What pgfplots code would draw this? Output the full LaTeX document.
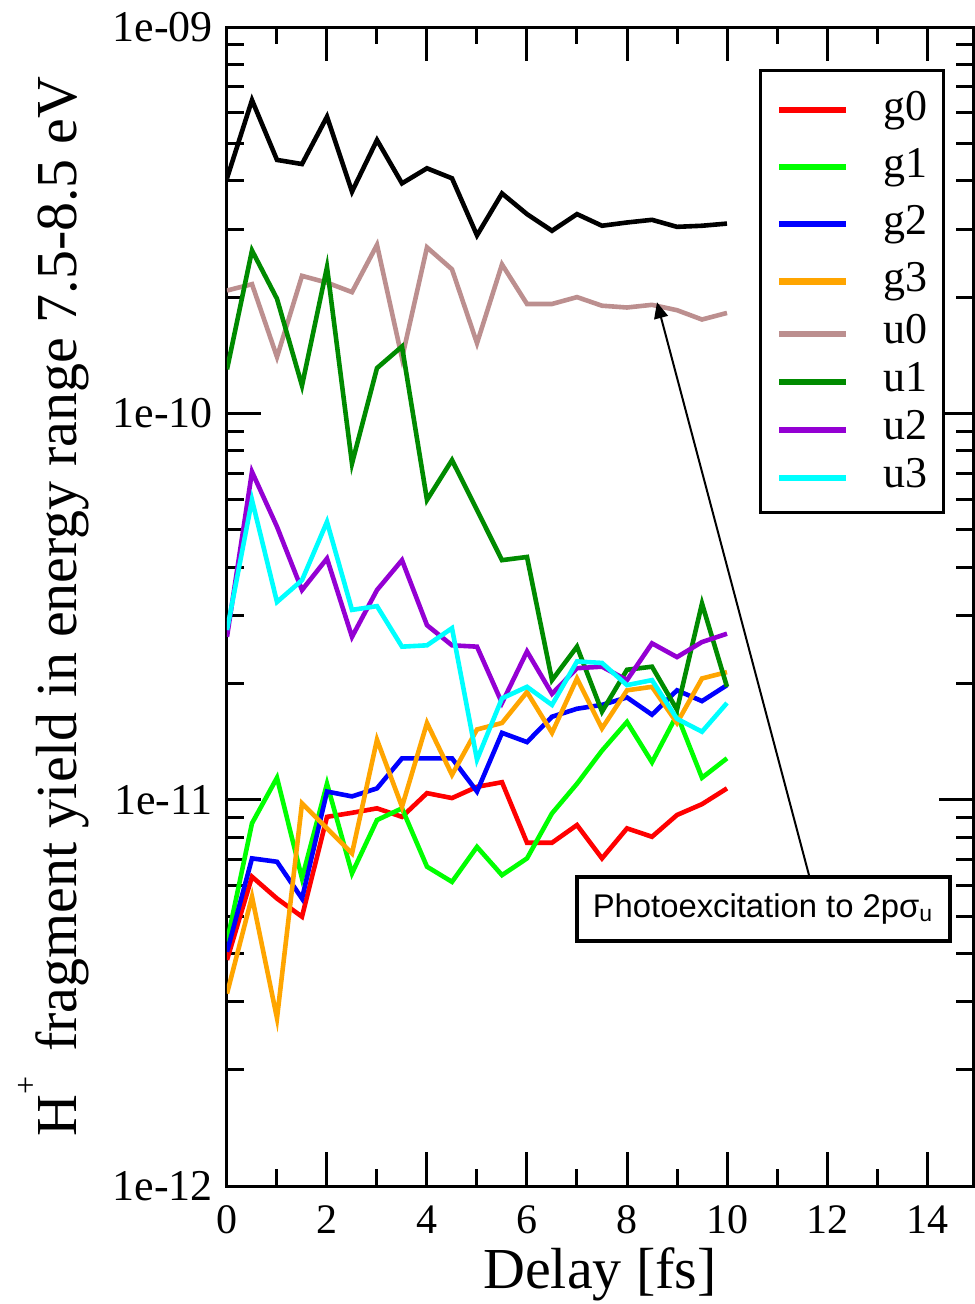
\documentclass[border=0pt]{standalone}
\usepackage{fontspec}
\setmainfont{Liberation Serif}
\newfontfamily\arial{Liberation Sans}
\usepackage{pgfplots}
\usepackage{pgfplotstable}
\pgfplotsset{compat=1.18}
\usetikzlibrary{arrows.meta}

\definecolor{cg0}{RGB}{255,0,0}
\definecolor{cg1}{RGB}{0,255,0}
\definecolor{cg2}{RGB}{0,0,255}
\definecolor{cg3}{RGB}{255,165,0}
\definecolor{cu0}{RGB}{188,143,143}
\definecolor{cu1}{RGB}{0,139,0}
\definecolor{cu2}{RGB}{148,0,211}
\definecolor{cu3}{RGB}{0,255,255}

% H+ yield vs delay, one column per state, tot = black curve
\pgfplotstableread{
t    g0       g1       g2       g3       u0       u1       u2       u3       tot
0.0  3.85e-12 4.29e-12 4.04e-12 3.15e-12 2.08e-10 1.30e-10 2.64e-11 2.75e-11 4.06e-10
0.5  6.32e-12 8.69e-12 7.05e-12 5.61e-12 2.16e-10 2.64e-10 7.06e-11 5.97e-11 6.47e-10
1.0  5.55e-12 1.14e-11 6.91e-12 2.72e-12 1.40e-10 1.98e-10 5.09e-11 3.25e-11 4.53e-10
1.5  4.98e-12 6.26e-12 5.55e-12 9.78e-12 2.27e-10 1.18e-10 3.49e-11 3.70e-11 4.42e-10
2.0  9.03e-12 1.10e-11 1.05e-11 8.43e-12 2.18e-10 2.39e-10 4.21e-11 5.24e-11 5.86e-10
2.5  9.25e-12 6.45e-12 1.02e-11 7.26e-12 2.06e-10 7.42e-11 2.64e-11 3.10e-11 3.75e-10
3.0  9.50e-12 8.86e-12 1.07e-11 1.43e-11 2.73e-10 1.31e-10 3.49e-11 3.17e-11 5.10e-10
3.5  9.03e-12 9.50e-12 1.28e-11 9.59e-12 1.39e-10 1.49e-10 4.17e-11 2.49e-11 3.94e-10
4.0  1.04e-11 6.71e-12 1.28e-11 1.58e-11 2.69e-10 5.97e-11 2.83e-11 2.51e-11 4.31e-10
4.5  1.01e-11 6.13e-12 1.28e-11 1.16e-11 2.36e-10 7.57e-11 2.51e-11 2.78e-11 4.06e-10
5.0  1.08e-11 7.55e-12 1.05e-11 1.52e-11 1.52e-10 5.62e-11 2.49e-11 1.27e-11 2.89e-10
5.5  1.11e-11 6.38e-12 1.49e-11 1.58e-11 2.43e-10 4.17e-11 1.78e-11 1.83e-11 3.71e-10
6.0  7.74e-12 7.05e-12 1.41e-11 1.90e-11 1.92e-10 4.25e-11 2.42e-11 1.96e-11 3.28e-10
6.5  7.74e-12 9.22e-12 1.64e-11 1.49e-11 1.92e-10 2.04e-11 1.88e-11 1.76e-11 2.97e-10
7.0  8.60e-12 1.10e-11 1.72e-11 2.06e-11 2.00e-10 2.49e-11 2.19e-11 2.28e-11 3.28e-10
7.5  7.05e-12 1.34e-11 1.76e-11 1.53e-11 1.90e-10 1.69e-11 2.21e-11 2.26e-11 3.06e-10
8.0  8.43e-12 1.59e-11 1.84e-11 1.92e-11 1.88e-10 2.17e-11 2.04e-11 1.98e-11 3.12e-10
8.5  8.02e-12 1.25e-11 1.66e-11 1.96e-11 1.91e-10 2.21e-11 2.54e-11 2.04e-11 3.17e-10
9.0  9.13e-12 1.66e-11 1.92e-11 1.58e-11 1.85e-10 1.71e-11 2.34e-11 1.62e-11 3.04e-10
9.5  9.74e-12 1.14e-11 1.80e-11 2.06e-11 1.75e-10 3.22e-11 2.56e-11 1.50e-11 3.06e-10
10.0 1.07e-11 1.28e-11 1.98e-11 2.14e-11 1.82e-10 1.96e-11 2.69e-11 1.78e-11 3.10e-10
}\yields

\begin{document}
\begin{tikzpicture}
\begin{axis}[
    scale only axis,
    width=186.5pt, height=289.75pt,
    xmin=0, xmax=14.92,
    ymode=log, ymin=1e-12, ymax=1e-9,
    xtick={0,2,...,14}, minor x tick num=1,
    ytick={1e-12,1e-11,1e-10,1e-9},
    yticklabels={1e-12,1e-11,1e-10,1e-09},
    minor ytick={2e-12,3e-12,4e-12,5e-12,6e-12,7e-12,8e-12,9e-12,
                 2e-11,3e-11,4e-11,5e-11,6e-11,7e-11,8e-11,9e-11,
                 2e-10,3e-10,4e-10,5e-10,6e-10,7e-10,8e-10,9e-10},
    major tick length=8.5pt, minor tick length=4.25pt,
    axis line style={line width=0.75pt},
    every tick/.style={black, line width=0.75pt},
    /pgf/number format/assume math mode=true,
    xticklabel style={font=\fontsize{10.5}{12}\selectfont, yshift=-1.4pt},
    yticklabel style={font=\fontsize{11}{13}\selectfont},
    xlabel={Delay [fs]},
    ylabel={H\raisebox{10pt}{\fontsize{8}{8}\selectfont +}\, fragment yield in energy range 7.5-8.5 eV},
    every axis x label/.style={at={(axis description cs:0.5,-0.088)}, anchor=base,
        inner sep=0pt, font=\fontsize{14.5}{17}\selectfont},
    every axis y label/.style={at={(axis description cs:-0.2011,0.5)}, rotate=90,
        anchor=base, inner sep=0pt, font=\fontsize{14.5}{17}\selectfont},
    legend cell align=left,
    legend style={at={(axis description cs:0.9625,0.9638)}, anchor=north east,
        draw=black, line width=0.75pt, fill=white,
        inner xsep=4pt, inner ysep=3.65pt, row sep=2pt,
        font=\fontsize{11}{13}\selectfont,
        nodes={inner sep=0pt, text height=7.5pt, text depth=2.5pt}},
    legend image code/.code={
        \draw[#1, line width=1.6pt] (0pt,0pt) -- (16.75pt,0pt);
        \path (25.5pt,0pt);},
    every axis plot/.append style={line width=1.15pt, no marks},
]
\addplot[black, forget plot] table[x=t, y=tot]{\yields};
\addplot[cg0] table[x=t, y=g0]{\yields};
\addlegendentry[text height=8.8pt, text depth=3.5pt]{g0}
\addplot[cg1] table[x=t, y=g1]{\yields};
\addlegendentry[text height=8.8pt, text depth=3.5pt]{g1}
\addplot[cg2] table[x=t, y=g2]{\yields};
\addlegendentry[text height=8.8pt, text depth=3.5pt]{g2}
\addplot[cg3] table[x=t, y=g3]{\yields};
\addlegendentry[text height=8.8pt, text depth=3.5pt]{g3}
\addplot[cu0] table[x=t, y=u0]{\yields};
\addlegendentry{u0}
\addplot[cu1] table[x=t, y=u1]{\yields};
\addlegendentry{u1}
\addplot[cu2] table[x=t, y=u2]{\yields};
\addlegendentry{u2}
\addplot[cu3] table[x=t, y=u3]{\yields};
\addlegendentry{u3}

\draw[line width=0.5pt, -{Triangle[length=4pt, width=3.5pt]}]
    (axis cs:11.64,6.38e-12) -- (axis cs:8.6,1.94e-10);
\node[draw, line width=0.9pt, fill=white, minimum width=93.25pt,
      minimum height=16pt, inner sep=0pt, font=\arial\fontsize{8.2}{9.8}\selectfont]
    at (axis cs:10.73,5.21e-12) {Photoexcitation to 2pσ\textsubscript{u}};

\coordinate (ll) at (rel axis cs:0,0);
\coordinate (ur) at (rel axis cs:1,1);
\end{axis}
\pgfresetboundingbox
\path[use as bounding box] ([xshift=-56.75pt,yshift=-29.5pt]ll)
    rectangle ([xshift=0.375pt,yshift=6.75pt]ur);
\end{tikzpicture}
\end{document}
